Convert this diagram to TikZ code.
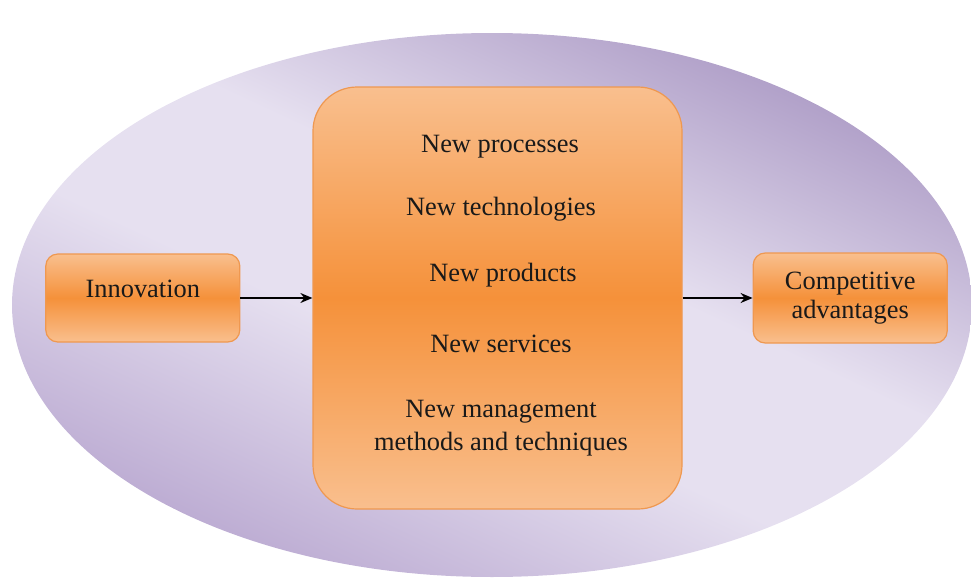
\documentclass[tikz,border=0pt]{standalone}
\usepackage{fontspec}
\setmainfont{Liberation Serif}
\usetikzlibrary{positioning}
\usetikzlibrary{arrows.meta}
\definecolor{lilacdark}{HTML}{AD9CC6}
\definecolor{lilaclight}{HTML}{E6E0F0}
\definecolor{lilacmid}{HTML}{BAA9D1}
\definecolor{orangedeep}{HTML}{F5913A}
\definecolor{orangepale}{HTML}{F9BF8E}
\definecolor{orangeline}{HTML}{EF9850}
% lilac wash with a wide pale band across the middle
\pgfdeclareverticalshading{lilacwash}{100bp}{color(0bp)=(lilacmid);
  color(25bp)=(lilacmid); color(44bp)=(lilaclight); color(56bp)=(lilaclight);
  color(75bp)=(lilacdark); color(100bp)=(lilacdark)}
\tikzset{%
  flow/.style = {-{Stealth[length=6pt,width=5pt]},black,line width=0.8pt},
  box/.style = {rectangle,draw=orangeline,line width=0.6pt,
        top color=orangepale,bottom color=orangepale,
        middle color=orangedeep,rounded corners=6pt,
        minimum width=97pt,minimum height=44pt,align=center,
        text=black!90,font=\fontsize{13.2}{14.5}\selectfont},
  item/.style = {text=black!90,align=center,
        font=\fontsize{13.2}{16.5}\selectfont}
}

\begin{document}
\begin{tikzpicture}[x=0.5pt,y=-0.5pt,node distance=36pt]
   \useasboundingbox (0,0) rectangle (971,578);
   % backdrop
   \path[shade,shading=lilacwash,shading angle=-25]
        (492,305) ellipse [x radius=480,y radius=272];

   \node[box,minimum width=184.5pt,minimum height=211pt,
         rounded corners=22pt] (hub) at (497.5,298) {};
   \node[box,text depth=9pt] (innov) [left=of hub] {Innovation};
   \node[box,minimum height=45pt] (compet) [right=35pt of hub]
        {Competitive\\advantages};

   \node[item,anchor=base] (proc) at (500,152) {New processes};
   \node[item,anchor=base] (tech) at (501,215) {New technologies};
   \node[item,anchor=base] (prod) at (503,281) {New products};
   \node[item,anchor=base] (serv) at (501,352) {New services};
   \node[item] (mgmt) at (501,428) {New management\\methods and techniques};

   \draw[flow] (innov) -- (hub);
   \draw[flow] (hub) -- (compet);
\end{tikzpicture}
\end{document}
